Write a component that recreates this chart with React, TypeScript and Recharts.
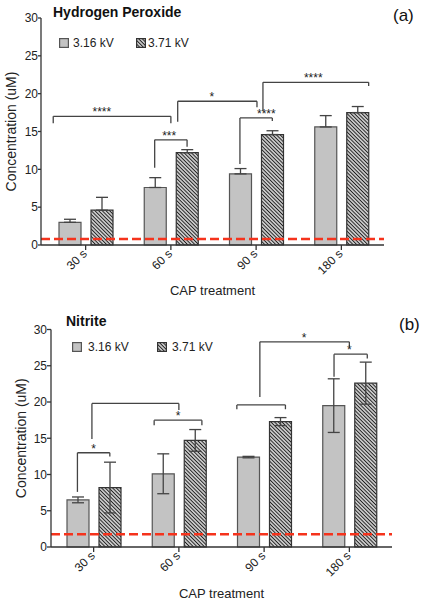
import React from 'react'
import { BarChart, Bar, XAxis, YAxis, ErrorBar, ReferenceLine, ReferenceDot } from 'recharts'

const categories = ['30 s', '60 s', '90 s', '180 s']
const yTicks = [0, 5, 10, 15, 20, 25, 30]
const seriesNames = ['3.16 kV', '3.71 kV']

// Hydrogen peroxide (uM): means and upper error
const h2o2Low = [3.0, 7.6, 9.4, 15.6]
const h2o2LowErr = [0.4, 1.3, 0.7, 1.5]
const h2o2High = [4.6, 12.2, 14.6, 17.5]
const h2o2HighErr = [1.7, 0.4, 0.5, 0.8]
const h2o2Limit = 0.8

// Nitrite (uM): means and +/- error
const no2Low = [6.5, 10.1, 12.4, 19.5]
const no2LowErr = [0.4, 2.75, 0.1, 3.7]
const no2High = [8.2, 14.7, 17.3, 22.6]
const no2HighErr = [3.5, 1.5, 0.55, 2.9]
const no2Limit = 1.75

// significance brackets, x in category units (0..4), y in uM
type Bracket = { x1: number; x2: number; y1: number; y2: number; top: number; lx: number; label: string }

const h2o2Brackets: Bracket[] = [
  { x1: 0.12, x2: 1.5, y1: 16.1, y2: 16.1, top: 17.0, lx: 0.69, label: '****' },
  { x1: 1.31, x2: 1.69, y1: 10.2, y2: 13.0, top: 13.9, lx: 1.48, label: '***' },
  { x1: 1.58, x2: 2.51, y1: 16.3, y2: 18.2, top: 19.0, lx: 1.98, label: '*' },
  { x1: 2.31, x2: 2.69, y1: 10.7, y2: 16.4, top: 16.8, lx: 2.62, label: '****' },
  { x1: 2.58, x2: 3.82, y1: 17.7, y2: 21.0, top: 21.5, lx: 3.17, label: '****' },
]

const no2Brackets: Bracket[] = [
  { x1: 0.31, x2: 0.69, y1: 7.6, y2: 12.5, top: 13.0, lx: 0.5, label: '*' },
  { x1: 0.48, x2: 1.5, y1: 14.9, y2: 18.9, top: 19.8, lx: 1.0, label: '' },
  { x1: 1.21, x2: 1.77, y1: 16.8, y2: 16.8, top: 17.5, lx: 1.49, label: '*' },
  { x1: 2.18, x2: 2.75, y1: 19.0, y2: 19.0, top: 19.6, lx: 2.46, label: '' },
  { x1: 2.45, x2: 3.5, y1: 20.7, y2: 27.6, top: 28.3, lx: 2.97, label: '*' },
  { x1: 3.32, x2: 3.71, y1: 23.5, y2: 26.0, top: 26.6, lx: 3.5, label: '*' },
]

const FONT = '"Liberation Sans", Arial, Helvetica, sans-serif'
const AXIS = '#333'
const GRAY = '#c3c3c3'
const RED = '#f5331c'

const RotTick = (props: any) => {
  const { x, y, payload } = props
  const tx = x + 2
  const ty = y + 2.5
  return (
    <text x={tx} y={ty} transform={`rotate(-45 ${tx} ${ty})`} textAnchor="end" fontSize={12} fill="#222">
      {payload.value}
    </text>
  )
}

const HatchDef = ({ id }: { id: string }) => (
  <pattern id={id} patternUnits="userSpaceOnUse" width="2.6" height="2.6" patternTransform="rotate(-45)">
    <rect width="2.6" height="2.6" fill="#fff" />
    <line x1="1.3" y1="0" x2="1.3" y2="2.6" stroke="#1e1e1e" strokeWidth="1.3" />
  </pattern>
)

interface PanelProps {
  id: string
  low: number[]
  lowErr: number[]
  high: number[]
  highErr: number[]
  upOnly: boolean
  limit: number
  brackets: Bracket[]
  height: number
  axisWidth: number
  marginTop: number
  marginRight: number
  xHeight: number
  xPad: number
  yTickSize: number
  yLabelX: number
  xLabelOffset: number
}

const Panel = ({
  id, low, lowErr, high, highErr, upOnly, limit, brackets,
  height, axisWidth, marginTop, marginRight, xHeight, xPad, yTickSize, yLabelX, xLabelOffset,
}: PanelProps) => {
  const data = categories.map((cat, i) => ({
    cat,
    pos: i + 0.5,
    low: low[i],
    high: high[i],
    lowErr: upOnly ? [0, lowErr[i]] : lowErr[i],
    highErr: upOnly ? [0, highErr[i]] : highErr[i],
  }))
  const hatchId = `hatch-${id}`
  const bracketStroke = { stroke: '#444', strokeWidth: 1.3 }

  return (
    <BarChart
      width={429}
      height={height}
      data={data}
      margin={{ top: marginTop, right: marginRight, left: 0, bottom: 0 }}
      barSize={22}
      barGap={10}
    >
      <defs>
        <HatchDef id={hatchId} />
      </defs>
      <XAxis
        dataKey="cat"
        interval={0}
        height={xHeight}
        padding={{ left: xPad, right: 0 }}
        tickSize={5}
        tick={<RotTick />}
        axisLine={{ stroke: AXIS, strokeWidth: 1.3 }}
        tickLine={{ stroke: AXIS, strokeWidth: 1.3 }}
        label={{ value: 'CAP treatment', position: 'insideBottom', offset: xLabelOffset, fontSize: 13, fill: '#222' }}
      />
      <XAxis
        xAxisId="n"
        dataKey="pos"
        type="number"
        scale="linear"
        domain={[0, 4]}
        allowDataOverflow
        hide
        padding={{ left: xPad, right: 0 }}
      />
      <YAxis
        domain={[0, 30]}
        ticks={yTicks}
        interval={0}
        width={axisWidth}
        tickSize={yTickSize}
        tickMargin={0}
        tick={{ fontSize: 12, fill: '#222' }}
        axisLine={{ stroke: AXIS, strokeWidth: 1.3 }}
        tickLine={{ stroke: AXIS, strokeWidth: 1.3 }}
        label={{
          value: 'Concentration (uM)',
          angle: -90,
          position: 'insideLeft',
          offset: yLabelX,
          fontSize: 14,
          fill: '#222',
          style: { textAnchor: 'middle' },
        }}
      />
      <Bar dataKey="low" name={seriesNames[0]} fill={GRAY} stroke="#555" strokeWidth={1.2} isAnimationActive={false}>
        <ErrorBar dataKey="lowErr" width={6} stroke="#444" strokeWidth={1.3} direction="y" />
      </Bar>
      <Bar dataKey="high" name={seriesNames[1]} fill={`url(#${hatchId})`} stroke="#333" strokeWidth={1.2} isAnimationActive={false}>
        <ErrorBar dataKey="highErr" width={6} stroke="#444" strokeWidth={1.3} direction="y" />
      </Bar>
      <ReferenceLine y={limit} stroke={RED} strokeWidth={2.4} strokeDasharray="9 4" />
      {brackets.map((b, i) => (
        <React.Fragment key={i}>
          <ReferenceLine xAxisId="n" segment={[{ x: b.x1, y: b.y1 }, { x: b.x1, y: b.top }]} {...bracketStroke} />
          <ReferenceLine xAxisId="n" segment={[{ x: b.x1, y: b.top }, { x: b.x2, y: b.top }]} {...bracketStroke} />
          <ReferenceLine xAxisId="n" segment={[{ x: b.x2, y: b.top }, { x: b.x2, y: b.y2 }]} {...bracketStroke} />
          {b.label && (
            <ReferenceDot
              xAxisId="n"
              x={b.lx}
              y={b.top}
              r={0}
              fill="none"
              stroke="none"
              label={{ value: b.label, position: 'top', offset: 0, fontSize: 12, fill: '#222' }}
            />
          )}
        </React.Fragment>
      ))}
    </BarChart>
  )
}

const Swatch = ({ hatch }: { hatch: boolean }) => (
  <svg width={10} height={10} style={{ display: 'block' }}>
    <defs>
      <HatchDef id="hatch-legend" />
    </defs>
    <rect
      x={0.6}
      y={0.6}
      width={8.8}
      height={8.8}
      fill={hatch ? 'url(#hatch-legend)' : GRAY}
      stroke={hatch ? '#333' : '#555'}
      strokeWidth={1.2}
    />
  </svg>
)

const LegendRow = ({ top, items }: { top: number; items: { left: number; textLeft: number; hatch: boolean }[] }) => (
  <>
    {items.map((it, i) => (
      <React.Fragment key={i}>
        <div style={{ position: 'absolute', left: it.left, top: top - 5 }}>
          <Swatch hatch={it.hatch} />
        </div>
        <div style={{ position: 'absolute', left: it.textLeft, top: top - 8, fontSize: 12, lineHeight: '16px', color: '#222' }}>
          {seriesNames[i]}
        </div>
      </React.Fragment>
    ))}
  </>
)

export default function App() {
  return (
    <div style={{ position: 'absolute', left: 0, top: 0, width: 429, height: 606, background: '#fff', fontFamily: FONT }}>
      <div style={{ position: 'absolute', left: 0, top: 0 }}>
        <Panel
          id="a"
          low={h2o2Low}
          lowErr={h2o2LowErr}
          high={h2o2High}
          highErr={h2o2HighErr}
          upOnly
          limit={h2o2Limit}
          brackets={h2o2Brackets}
          height={300}
          axisWidth={41}
          marginTop={18}
          marginRight={45}
          xHeight={55}
          xPad={2}
          yTickSize={3}
          yLabelX={11}
          xLabelOffset={5}
        />
      </div>
      <div style={{ position: 'absolute', left: 0, top: 300 }}>
        <Panel
          id="b"
          low={no2Low}
          lowErr={no2LowErr}
          high={no2High}
          highErr={no2HighErr}
          upOnly={false}
          limit={no2Limit}
          brackets={no2Brackets}
          height={306}
          axisWidth={51}
          marginTop={29.5}
          marginRight={37}
          xHeight={59}
          xPad={0}
          yTickSize={4}
          yLabelX={21}
          xLabelOffset={8}
        />
      </div>

      <div style={{ position: 'absolute', left: 53, top: 4, fontSize: 14, fontWeight: 'bold', lineHeight: '16px', color: '#111' }}>
        Hydrogen Peroxide
      </div>
      <div style={{ position: 'absolute', left: 393, top: 6, fontSize: 17, lineHeight: '20px', color: '#111' }}>(a)</div>
      <LegendRow
        top={43}
        items={[
          { left: 59, textLeft: 73, hatch: false },
          { left: 136, textLeft: 148, hatch: true },
        ]}
      />

      <div style={{ position: 'absolute', left: 66, top: 313, fontSize: 14, fontWeight: 'bold', lineHeight: '16px', color: '#111' }}>
        Nitrite
      </div>
      <div style={{ position: 'absolute', left: 399, top: 315, fontSize: 17, lineHeight: '20px', color: '#111' }}>(b)</div>
      <LegendRow
        top={346.5}
        items={[
          { left: 72, textLeft: 88, hatch: false },
          { left: 157, textLeft: 172, hatch: true },
        ]}
      />
    </div>
  )
}
